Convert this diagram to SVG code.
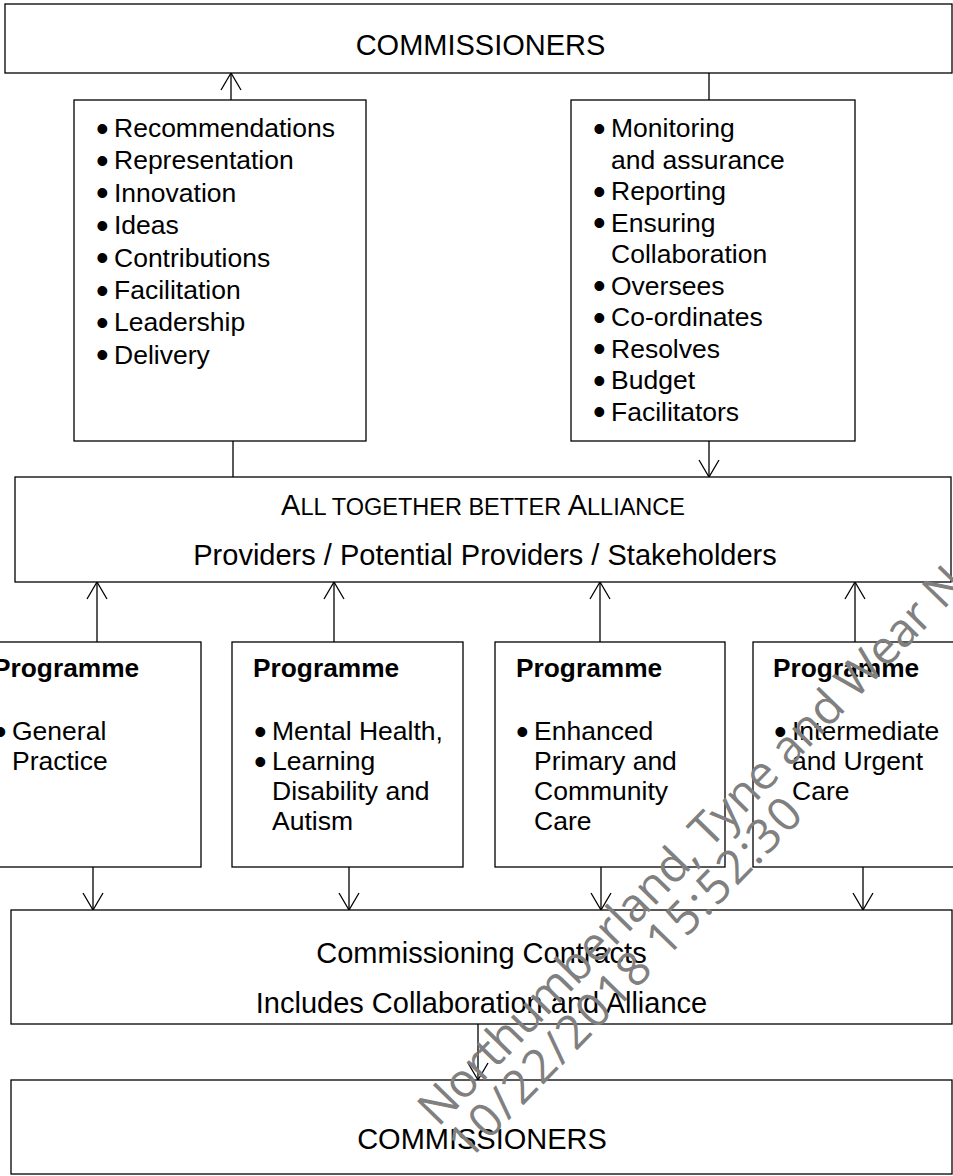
<svg xmlns="http://www.w3.org/2000/svg" width="953" height="1176" viewBox="0 0 953 1176">
  <style>
    .box { fill: #fff; stroke: #000; stroke-width: 1.3; }
    .link { fill: none; stroke: #000; stroke-width: 1.3; }
    .big { font-family: "Liberation Sans", Arial, sans-serif; font-size: 29px; fill: #000; }
    .item { font-family: "Liberation Sans", Arial, sans-serif; font-size: 26.5px; fill: #000; }
    .head { font-family: "Liberation Sans", Arial, sans-serif; font-size: 26.3px; font-weight: bold; fill: #000; }
    .sc { font-size: 23.5px; }
    .b { font-size: 36px; }
    .mark { font-family: "Open Sans", "DejaVu Sans", sans-serif; font-size: 47px; fill: #808080; }
  </style>
  <defs>
    <marker id="arr" markerWidth="20" markerHeight="22" refX="18" refY="11" orient="auto" markerUnits="userSpaceOnUse">
      <path d="M1,1 L18,11 L1,21" fill="none" stroke="#000" stroke-width="1.3"/>
    </marker>
  </defs>

  <rect width="953" height="1176" fill="#fff"/>

  <!-- connectors -->
  <g id="connectors">
    <line class="link" x1="231" y1="100" x2="231" y2="73" marker-end="url(#arr)"/>
    <line class="link" x1="709" y1="73" x2="709" y2="100"/>
    <line class="link" x1="233" y1="441" x2="233" y2="477"/>
    <line class="link" x1="709" y1="441" x2="709" y2="477" marker-end="url(#arr)"/>
    <line class="link" x1="97" y1="642" x2="97" y2="582" marker-end="url(#arr)"/>
    <line class="link" x1="334" y1="642" x2="334" y2="582" marker-end="url(#arr)"/>
    <line class="link" x1="600" y1="642" x2="600" y2="582" marker-end="url(#arr)"/>
    <line class="link" x1="855" y1="642" x2="855" y2="582" marker-end="url(#arr)"/>
    <line class="link" x1="93" y1="867" x2="93" y2="910" marker-end="url(#arr)"/>
    <line class="link" x1="349" y1="867" x2="349" y2="910" marker-end="url(#arr)"/>
    <line class="link" x1="601" y1="867" x2="601" y2="910" marker-end="url(#arr)"/>
    <line class="link" x1="863" y1="867" x2="863" y2="910" marker-end="url(#arr)"/>
    <line class="link" x1="478" y1="1024" x2="478" y2="1080" marker-end="url(#arr)"/>
  </g>

  <g id="commissioners-top">
    <rect class="box" x="5" y="4" width="947" height="69"/>
    <text class="big" x="480.5" y="55" text-anchor="middle">COMMISSIONERS</text>
  </g>

  <g id="upward-roles">
    <rect class="box" x="74" y="100" width="292" height="341"/>
    <g class="item">
      <text y="137"><tspan class="b" x="96" dy="3.5">•</tspan><tspan x="114" dy="-3.5">Recommendations</tspan></text>
      <text y="169.4"><tspan class="b" x="96" dy="3.5">•</tspan><tspan x="114" dy="-3.5">Representation</tspan></text>
      <text y="201.8"><tspan class="b" x="96" dy="3.5">•</tspan><tspan x="114" dy="-3.5">Innovation</tspan></text>
      <text y="234.2"><tspan class="b" x="96" dy="3.5">•</tspan><tspan x="114" dy="-3.5">Ideas</tspan></text>
      <text y="266.6"><tspan class="b" x="96" dy="3.5">•</tspan><tspan x="114" dy="-3.5">Contributions</tspan></text>
      <text y="299"><tspan class="b" x="96" dy="3.5">•</tspan><tspan x="114" dy="-3.5">Facilitation</tspan></text>
      <text y="331.4"><tspan class="b" x="96" dy="3.5">•</tspan><tspan x="114" dy="-3.5">Leadership</tspan></text>
      <text y="363.8"><tspan class="b" x="96" dy="3.5">•</tspan><tspan x="114" dy="-3.5">Delivery</tspan></text>
    </g>
  </g>

  <g id="downward-roles">
    <rect class="box" x="571" y="100" width="284" height="341"/>
    <g class="item">
      <text y="137"><tspan class="b" x="593" dy="3.5">•</tspan><tspan x="611" dy="-3.5">Monitoring</tspan></text>
      <text x="611" y="168.5">and assurance</text>
      <text y="200"><tspan class="b" x="593" dy="3.5">•</tspan><tspan x="611" dy="-3.5">Reporting</tspan></text>
      <text y="231.5"><tspan class="b" x="593" dy="3.5">•</tspan><tspan x="611" dy="-3.5">Ensuring</tspan></text>
      <text x="611" y="263">Collaboration</text>
      <text y="294.5"><tspan class="b" x="593" dy="3.5">•</tspan><tspan x="611" dy="-3.5">Oversees</tspan></text>
      <text y="326"><tspan class="b" x="593" dy="3.5">•</tspan><tspan x="611" dy="-3.5">Co-ordinates</tspan></text>
      <text y="357.5"><tspan class="b" x="593" dy="3.5">•</tspan><tspan x="611" dy="-3.5">Resolves</tspan></text>
      <text y="389"><tspan class="b" x="593" dy="3.5">•</tspan><tspan x="611" dy="-3.5">Budget</tspan></text>
      <text y="420.5"><tspan class="b" x="593" dy="3.5">•</tspan><tspan x="611" dy="-3.5">Facilitators</tspan></text>
    </g>
  </g>

  <g id="alliance">
    <rect class="box" x="15" y="477" width="936" height="105"/>
    <text class="big" x="483" y="515" text-anchor="middle">A<tspan class="sc">LL TOGETHER BETTER </tspan>A<tspan class="sc">LLIANCE</tspan></text>
    <text class="big" x="485" y="565" text-anchor="middle">Providers / Potential Providers / Stakeholders</text>
  </g>

  <g id="programme-general-practice">
    <rect class="box" x="-30" y="642" width="231" height="225"/>
    <text class="head" x="-7" y="677">Programme</text>
    <g class="item">
      <text y="740"><tspan class="b" x="-6" dy="3.5">•</tspan><tspan x="12" dy="-3.5">General</tspan></text>
      <text x="12" y="770">Practice</text>
    </g>
  </g>

  <g id="programme-mental-health">
    <rect class="box" x="232" y="642" width="231" height="225"/>
    <text class="head" x="253" y="677">Programme</text>
    <g class="item">
      <text y="740"><tspan class="b" x="254" dy="3.5">•</tspan><tspan x="272" dy="-3.5">Mental Health,</tspan></text>
      <text y="770"><tspan class="b" x="254" dy="3.5">•</tspan><tspan x="272" dy="-3.5">Learning</tspan></text>
      <text x="272" y="799.5">Disability and</text>
      <text x="272" y="829.5">Autism</text>
    </g>
  </g>

  <g id="programme-primary-community">
    <rect class="box" x="495" y="642" width="230" height="225"/>
    <text class="head" x="516" y="677">Programme</text>
    <g class="item">
      <text y="740"><tspan class="b" x="516" dy="3.5">•</tspan><tspan x="534" dy="-3.5">Enhanced</tspan></text>
      <text x="534" y="770">Primary and</text>
      <text x="534" y="799.5">Community</text>
      <text x="534" y="829.5">Care</text>
    </g>
  </g>

  <g id="programme-intermediate-urgent">
    <rect class="box" x="753" y="642" width="231" height="225"/>
    <text class="head" x="773" y="677">Programme</text>
    <g class="item">
      <text y="740"><tspan class="b" x="774" dy="3.5">•</tspan><tspan x="792" dy="-3.5">Intermediate</tspan></text>
      <text x="792" y="770">and Urgent</text>
      <text x="792" y="799.5">Care</text>
    </g>
  </g>

  <g id="contracts">
    <rect class="box" x="11" y="910" width="941" height="114"/>
    <text class="big" x="481.5" y="963" text-anchor="middle">Commissioning Contracts</text>
    <text class="big" x="481.5" y="1013" text-anchor="middle">Includes Collaboration and Alliance</text>
  </g>

  <g id="commissioners-bottom">
    <rect class="box" x="11" y="1080" width="941" height="94"/>
    <text class="big" x="482" y="1149" text-anchor="middle">COMMISSIONERS</text>
  </g>

  <!-- diagonal document stamp -->
  <g id="stamp" class="mark">
    <text transform="translate(438 1128) rotate(-45.7)" textLength="758" lengthAdjust="spacing">Northumberland, Tyne and Wear N</text>
    <text transform="translate(468 1162) rotate(-45.7)" textLength="483" lengthAdjust="spacing">10/22/2018 15:52:30</text>
  </g>
</svg>
